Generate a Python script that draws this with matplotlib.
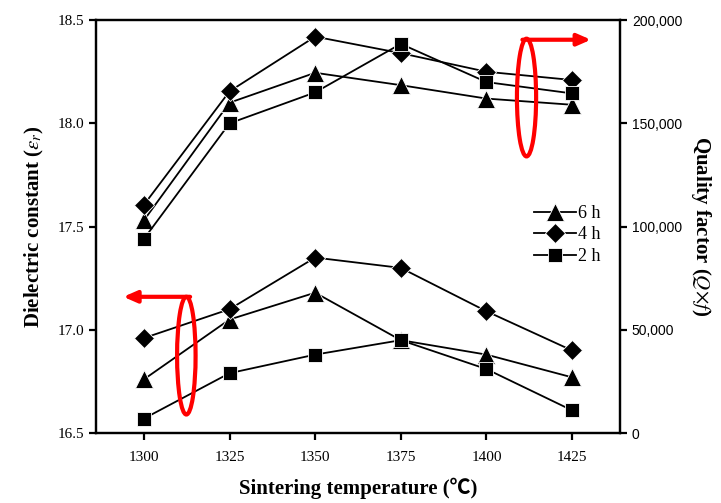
import matplotlib
matplotlib.use('Agg')
import matplotlib.pyplot as plt
from matplotlib.patches import Ellipse
from matplotlib.ticker import FuncFormatter

plt.rcParams['font.family'] = ['Liberation Serif', 'DejaVu Serif']
plt.rcParams['mathtext.fontset'] = 'stix'

temps = [1300, 1325, 1350, 1375, 1400, 1425]

# dielectric constant (left axis)
er_6h = [16.76, 17.05, 17.18, 16.95, 16.88, 16.77]
er_4h = [16.96, 17.10, 17.35, 17.30, 17.09, 16.90]
er_2h = [16.57, 16.79, 16.88, 16.95, 16.81, 16.61]

# quality factor (right axis)
qf_6h = [103000, 160000, 174500, 168500, 162000, 159000]
qf_4h = [110500, 165500, 192000, 184000, 175000, 171000]
qf_2h = [94000, 150000, 165000, 188500, 170000, 164500]

fig = plt.figure(figsize=(7.21, 5.03), dpi=100)
ax = fig.add_axes([0.133, 0.139, 0.727, 0.821])
ax2 = ax.twinx()

mk = dict(color='black', lw=1.3, markeredgecolor='white', markeredgewidth=0.6)
l6, = ax.plot(temps, er_6h, marker='^', ms=13, **mk)
l4, = ax.plot(temps, er_4h, marker='D', ms=10.5, **mk)
l2, = ax.plot(temps, er_2h, marker='s', ms=10.5, **mk)
ax2.plot(temps, qf_6h, marker='^', ms=13, **mk)
ax2.plot(temps, qf_4h, marker='D', ms=10.5, **mk)
ax2.plot(temps, qf_2h, marker='s', ms=10.5, **mk)

ax.set_xlim(1286, 1439)
ax.set_ylim(16.5, 18.5)
ax2.set_ylim(0, 200000)
ax.set_xticks(temps)
ax.set_yticks([16.5, 17.0, 17.5, 18.0, 18.5])
ax2.set_yticks([0, 50000, 100000, 150000, 200000])
ax2.yaxis.set_major_formatter(FuncFormatter(lambda v, p: f'{int(v):,}'))

for a in (ax, ax2):
    for s in a.spines.values():
        s.set_linewidth(1.6)
    a.tick_params(direction='out', length=5, width=1.6, labelsize=11)
ax.tick_params(axis='x', pad=8)
for lab in ax2.get_yticklabels():
    lab.set_family('Liberation Sans')
    lab.set_fontsize(10)

ax.set_xlabel('Sintering temperature (\u2103)', fontsize=15, fontweight='bold',
              family=['Liberation Serif', 'Noto Sans CJK JP'], labelpad=10)
ax.set_ylabel(r'Dielectric constant ($\mathit{\varepsilon_r}$)', fontsize=15,
              fontweight='bold', labelpad=8)
ax2.set_ylabel(r'Quality factor ($Q$$\times$$f$)', fontsize=15, fontweight='bold',
               rotation=270, labelpad=22)

ax2.legend([l6, l4, l2], ['6 h', '4 h', '2 h'], loc='center left',
           bbox_to_anchor=(0.805, 0.48), frameon=False, fontsize=13,
           handlelength=2.3, handletextpad=0.15, labelspacing=0.25)

# red annotations
red = '#ff0000'
ax2.add_patch(Ellipse((1411.7, 162500), 5.6, 57000, fill=False, ec=red, lw=3, zorder=5))
ax2.annotate('', xy=(1430.5, 190500), xytext=(1410.5, 190500),
             arrowprops=dict(arrowstyle='-|>,head_length=0.8,head_width=0.35',
                             color=red, lw=3, shrinkA=0, shrinkB=0), zorder=5)
ax.add_patch(Ellipse((1312.4, 16.875), 5.4, 0.57, fill=False, ec=red, lw=3, zorder=5))
ax.annotate('', xy=(1294.0, 17.16), xytext=(1313.5, 17.16),
            arrowprops=dict(arrowstyle='-|>,head_length=0.8,head_width=0.35',
                            color=red, lw=3, shrinkA=0, shrinkB=0), zorder=5)

fig.savefig('out.png', dpi=100)
